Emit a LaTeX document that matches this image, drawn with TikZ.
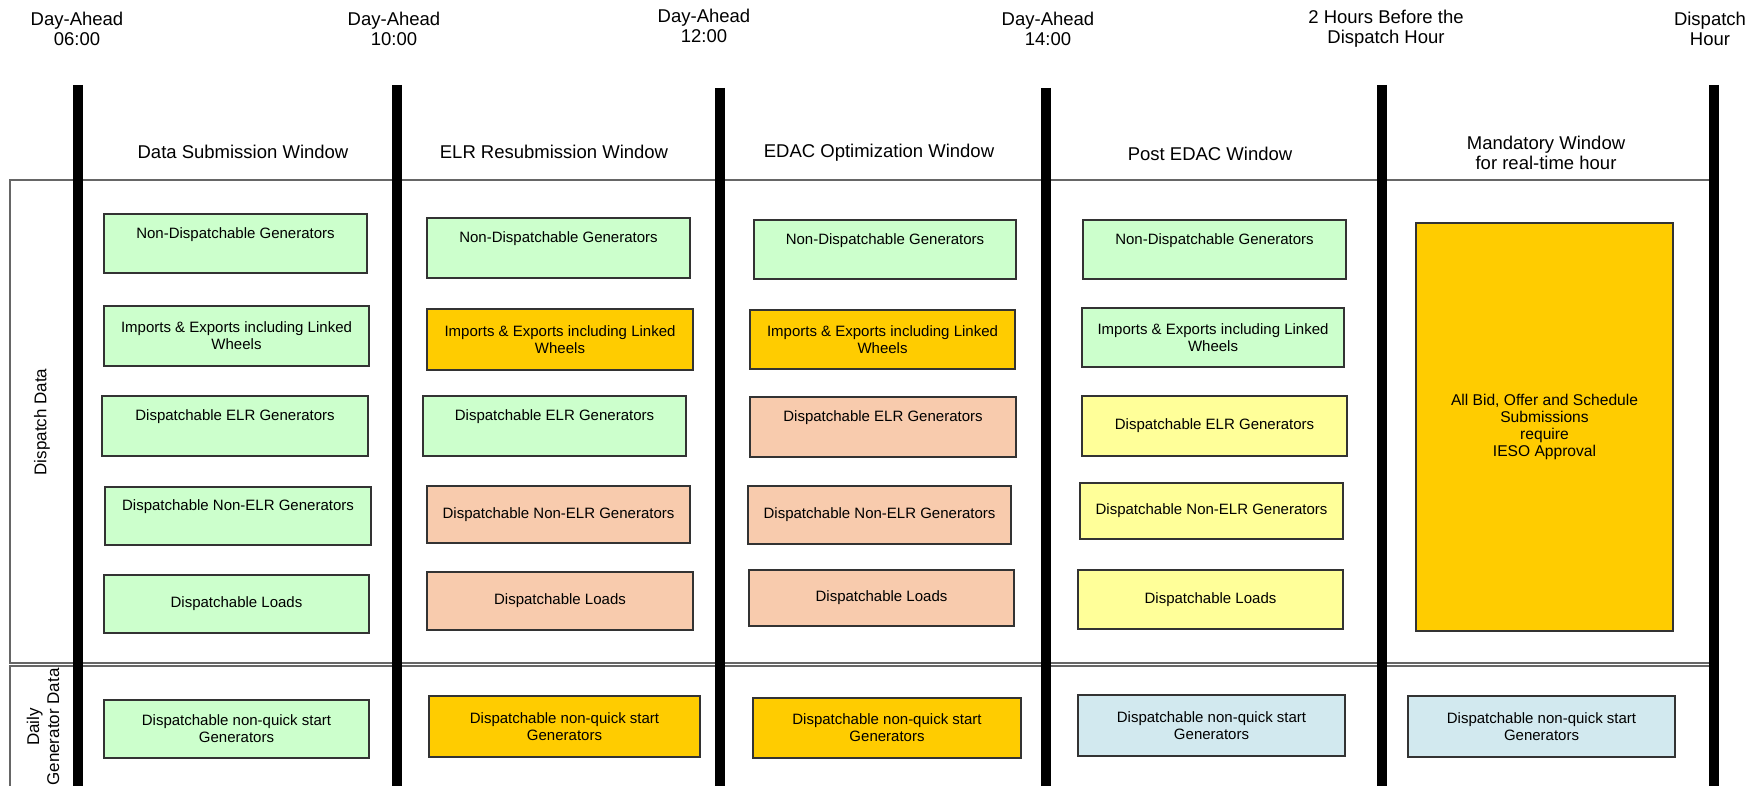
\documentclass[tikz,border=0pt]{standalone}
\usepackage{fontspec}
\setmainfont{Liberation Sans}
\definecolor{ndgreen}{HTML}{CCFFCC}
\definecolor{subgold}{HTML}{FFCC00}
\definecolor{optpeach}{HTML}{F8CBAD}
\definecolor{postyellow}{HTML}{FFFF99}
\definecolor{dayblue}{HTML}{D2E9EF}
\tikzset{
    winbar/.style={line width=10pt},
    region/.style={draw=black!60, line width=1.3pt},
    databox/.style={draw=black!80, line width=1.2pt, inner sep=2pt, align=center, font=\fontsize{15}{16.8}\selectfont},
    high text/.style={text height=10.8pt, text depth=21pt},
    toplabel/.style={align=center, font=\fontsize{18.5}{20}\selectfont},
    sidelabel/.style={align=center, rotate=90, font=\fontsize{17}{20}\selectfont},
}
\begin{document}
\begin{tikzpicture}[x=1pt, y=-1pt]
    \path[use as bounding box, fill=white] (0,0) rectangle (1745,786);

    \draw[region] (10,180) rectangle (1714,663);
    \draw[region] (10,666) rectangle (1714,800);
    \foreach \bx/\btop in {78/85, 397/85, 720/88, 1045.5/88, 1382/85, 1714/85}
        \draw[winbar] (\bx,\btop) -- (\bx,790);

    \node[toplabel] (tA) at (77,29) {Day-Ahead\\06:00};
    \node[toplabel] (tB) at (394,29) {Day-Ahead\\10:00};
    \node[toplabel] (tC) at (704,26) {Day-Ahead\\12:00};
    \node[toplabel] (tD) at (1048,29) {Day-Ahead\\14:00};
    \node[toplabel] (tE) at (1386,29) {2 Hours Before the\\Dispatch Hour};
    \node[toplabel] (tF) at (1710,29) {Dispatch\\Hour};

    \node[toplabel] (winA) at (243,152) {Data Submission Window};
    \node[toplabel] (winB) at (554,152) {ELR Resubmission Window};
    \node[toplabel] (winC) at (879,153) {EDAC Optimization Window};
    \node[toplabel] (winD) at (1210,154) {Post EDAC Window};
    \node[toplabel] (winE) at (1546,153) {Mandatory Window\\for real-time hour};

    \node[sidelabel] (dispData) at (42,422) {Dispatch Data};
    \node[sidelabel] (dailyData) at (43,727) {Daily\\Generator Data};

    \node[databox, high text, fill=ndgreen, minimum width=263, minimum height=59] (ndA) at (235.5,243.5) {Non-Dispatchable Generators};
    \node[databox, fill=ndgreen, minimum width=265, minimum height=60] (impA) at (236.5,336) {Imports \& Exports including Linked\\Wheels};
    \node[databox, high text, fill=ndgreen, minimum width=266, minimum height=60] (elrA) at (235,426) {Dispatchable ELR Generators};
    \node[databox, high text, fill=ndgreen, minimum width=266, minimum height=58] (nelrA) at (238,516) {Dispatchable Non-ELR Generators};
    \node[databox, fill=ndgreen, minimum width=265, minimum height=58] (ldA) at (236.5,604) {Dispatchable Loads};
    \node[databox, fill=ndgreen, minimum width=265, minimum height=58] (nqA) at (236.5,729) {Dispatchable non-quick start\\Generators};

    \node[databox, high text, fill=ndgreen, minimum width=263, minimum height=60] (ndB) at (558.5,248) {Non-Dispatchable Generators};
    \node[databox, fill=subgold, minimum width=266, minimum height=61] (impB) at (560,339.5) {Imports \& Exports including Linked\\Wheels};
    \node[databox, high text, fill=ndgreen, minimum width=263, minimum height=60] (elrB) at (554.5,426) {Dispatchable ELR Generators};
    \node[databox, fill=optpeach, minimum width=263, minimum height=57] (nelrB) at (558.5,514.5) {Dispatchable Non-ELR Generators};
    \node[databox, fill=optpeach, minimum width=266, minimum height=58] (ldB) at (560,601) {Dispatchable Loads};
    \node[databox, fill=subgold, minimum width=271, minimum height=61] (nqB) at (564.5,726.5) {Dispatchable non-quick start\\Generators};

    \node[databox, high text, fill=ndgreen, minimum width=262, minimum height=59] (ndC) at (885,249.5) {Non-Dispatchable Generators};
    \node[databox, fill=subgold, minimum width=265, minimum height=59] (impC) at (882.5,339.5) {Imports \& Exports including Linked\\Wheels};
    \node[databox, high text, fill=optpeach, minimum width=266, minimum height=60] (elrC) at (883,427) {Dispatchable ELR Generators};
    \node[databox, fill=optpeach, minimum width=263, minimum height=58] (nelrC) at (879.5,515) {Dispatchable Non-ELR Generators};
    \node[databox, fill=optpeach, minimum width=265, minimum height=56] (ldC) at (881.5,598) {Dispatchable Loads};
    \node[databox, fill=subgold, minimum width=268, minimum height=60] (nqC) at (887,728) {Dispatchable non-quick start\\Generators};

    \node[databox, high text, fill=ndgreen, minimum width=263, minimum height=59] (ndD) at (1214.5,249.5) {Non-Dispatchable Generators};
    \node[databox, fill=ndgreen, minimum width=262, minimum height=59] (impD) at (1213,337.5) {Imports \& Exports including Linked\\Wheels};
    \node[databox, fill=postyellow, minimum width=265, minimum height=60] (elrD) at (1214.5,426) {Dispatchable ELR Generators};
    \node[databox, fill=postyellow, minimum width=263, minimum height=56] (nelrD) at (1211.5,511) {Dispatchable Non-ELR Generators};
    \node[databox, fill=postyellow, minimum width=265, minimum height=59] (ldD) at (1210.5,599.5) {Dispatchable Loads};
    \node[databox, fill=dayblue, minimum width=267, minimum height=61] (nqD) at (1211.5,725.5) {Dispatchable non-quick start\\Generators};

    \node[databox, fill=subgold, minimum width=257, minimum height=408, font=\fontsize{15.6}{17.3}\selectfont] (allE) at (1544.5,427) {All Bid, Offer and Schedule\\Submissions\\require\\IESO Approval};
    \node[databox, fill=dayblue, minimum width=267, minimum height=61] (nqE) at (1541.5,726.5) {Dispatchable non-quick start\\Generators};
\end{tikzpicture}
\end{document}
